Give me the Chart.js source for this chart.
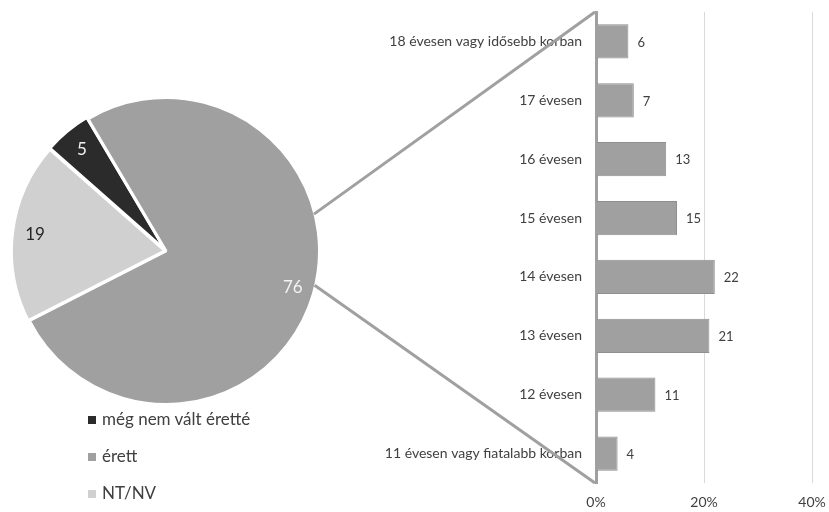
<!DOCTYPE html>
<html lang="hu">
<head>
<meta charset="UTF-8">
<title>Érettség</title>
<script src="https://cdn.jsdelivr.net/npm/chart.js@4.4.0/dist/chart.umd.min.js"></script>
<style>
    body { margin: 0; background: #fff; font-family: Lato, sans-serif; }
    #wrap { position: relative; width: 829px; height: 512px; overflow: hidden; }
    #pieBox { position: absolute; left: 9px; top: 94px; width: 314px; height: 314px; }
    #barBox { position: absolute; left: 370px; top: 0; width: 459px; height: 512px; }
    #lines { position: absolute; left: 0; top: 0; pointer-events: none; }
    .legend { position: absolute; left: 88px; top: 407px; font-size: 17px; color: #404040; }
    .legend div { height: 37px; line-height: 24px; }
    .legend span { display: inline-block; width: 8px; height: 8px; margin-right: 6px; vertical-align: 1px; }
</style>
</head>
<body>
<div id="wrap">
    <div id="pieBox"><canvas id="pieChart"></canvas></div>
    <div id="barBox"><canvas id="barChart"></canvas></div>
    <canvas id="lines" width="829" height="512"></canvas>
    <div class="legend" id="legend"></div>
</div>
<script>
    // pie: share of respondents
    const pieLabels = ['még nem vált érett\u00e9', 'érett', 'NT/NV'];
    const pieValues = [5, 76, 19];
    const pieColors = ['#2b2b2b', '#a0a0a0', '#d0d0d0'];
    const pieTextColors = ['#f2f2f2', '#f2f2f2', '#262626'];

    // bar: age at which it happened (%)
    const ageLabels = ['18 évesen vagy idősebb korban', '17 évesen', '16 évesen', '15 évesen',
        '14 évesen', '13 évesen', '12 évesen', '11 évesen vagy fiatalabb korban'];
    const ageValues = [6, 7, 13, 15, 22, 21, 11, 4];
    const xTicks = [0, 20, 40];

    const legendEl = document.getElementById('legend');
    pieLabels.forEach((l, i) => {
        const d = document.createElement('div');
        d.innerHTML = '<span style="background:' + pieColors[i] + '"></span>' + l;
        legendEl.appendChild(d);
    });

    const pieLabelPlugin = {
        id: 'pieLabels',
        afterDatasetsDraw(chart) {
            const ctx = chart.ctx;
            ctx.save();
            ctx.font = '17px Lato';
            ctx.textAlign = 'center';
            ctx.textBaseline = 'middle';
            chart.getDatasetMeta(0).data.forEach((arc, i) => {
                const mid = (arc.startAngle + arc.endAngle) / 2;
                const r = arc.outerRadius * 0.86;
                ctx.fillStyle = pieTextColors[i];
                ctx.fillText(pieValues[i], arc.x + Math.cos(mid) * r, arc.y + Math.sin(mid) * r);
            });
            ctx.restore();
        }
    };

    const barLabelPlugin = {
        id: 'barLabels',
        afterDatasetsDraw(chart) {
            const ctx = chart.ctx;
            ctx.save();
            ctx.font = '13px Lato';
            ctx.fillStyle = '#404040';
            ctx.textAlign = 'left';
            ctx.textBaseline = 'middle';
            chart.getDatasetMeta(0).data.forEach((bar, i) => {
                ctx.fillText(ageValues[i], bar.x + 9, bar.y + 1);
            });
            ctx.restore();
        }
    };

    const pie = new Chart(document.getElementById('pieChart'), {
        type: 'pie',
        data: {
            labels: pieLabels,
            datasets: [{
                data: pieValues,
                backgroundColor: pieColors,
                borderColor: '#ffffff',
                borderWidth: 3,
                offset: [4, 0, 4]
            }]
        },
        options: {
            responsive: true,
            maintainAspectRatio: false,
            animation: false,
            rotation: -48.6,
            layout: { padding: 0 },
            plugins: { legend: { display: false }, tooltip: { enabled: false } }
        },
        plugins: [pieLabelPlugin]
    });

    const bar = new Chart(document.getElementById('barChart'), {
        type: 'bar',
        data: {
            labels: ageLabels,
            datasets: [{
                data: ageValues,
                backgroundColor: '#a0a0a0',
                borderColor: '#8f8f8f',
                borderWidth: 1,
                barPercentage: 0.58,
                categoryPercentage: 1
            }]
        },
        options: {
            indexAxis: 'y',
            responsive: true,
            maintainAspectRatio: false,
            animation: false,
            layout: { padding: { top: 12, right: 17 } },
            plugins: { legend: { display: false }, tooltip: { enabled: false } },
            scales: {
                x: {
                    min: 0,
                    max: 40,
                    afterBuildTicks: (s) => { s.ticks = xTicks.map(v => ({ value: v })); },
                    afterFit: (s) => { s.height = 29; s.paddingRight = 0; s.paddingLeft = 0; },
                    grid: { color: '#d9d9d9', drawTicks: false },
                    border: { display: false },
                    ticks: { padding: 11, color: '#404040', font: { family: 'Lato', size: 14 },
                        callback: v => v + '%' }
                },
                y: {
                    afterFit: (s) => { s.width = 226; s.paddingTop = 0; s.paddingBottom = 0; },
                    grid: { display: false, drawTicks: false },
                    border: { color: '#a0a0a0', width: 3 },
                    ticks: { padding: 14, color: '#404040', font: { family: 'Lato', size: 14 } }
                }
            }
        },
        plugins: [barLabelPlugin]
    });

    // connector lines from the "érett" slice to the bar axis
    (function drawConnectors() {
        const ctx = document.getElementById('lines').getContext('2d');
        const arc = pie.getDatasetMeta(0).data[1];
        const pieBox = document.getElementById('pieBox');
        const barBox = document.getElementById('barBox');
        const cx = pieBox.offsetLeft + arc.x, cy = pieBox.offsetTop + arc.y;
        const r = arc.outerRadius - 1;
        const area = bar.chartArea;
        const ax = barBox.offsetLeft + area.left - 1;
        const angles = [-14 * Math.PI / 180, 13 * Math.PI / 180];
        const targets = [barBox.offsetTop + area.top, barBox.offsetTop + area.bottom];
        ctx.strokeStyle = '#a0a0a0';
        ctx.lineWidth = 3;
        angles.forEach((a, i) => {
            ctx.beginPath();
            ctx.moveTo(cx + Math.cos(a) * r, cy + Math.sin(a) * r);
            ctx.lineTo(ax, targets[i]);
            ctx.stroke();
        });
    })();
</script>
</body>
</html>
